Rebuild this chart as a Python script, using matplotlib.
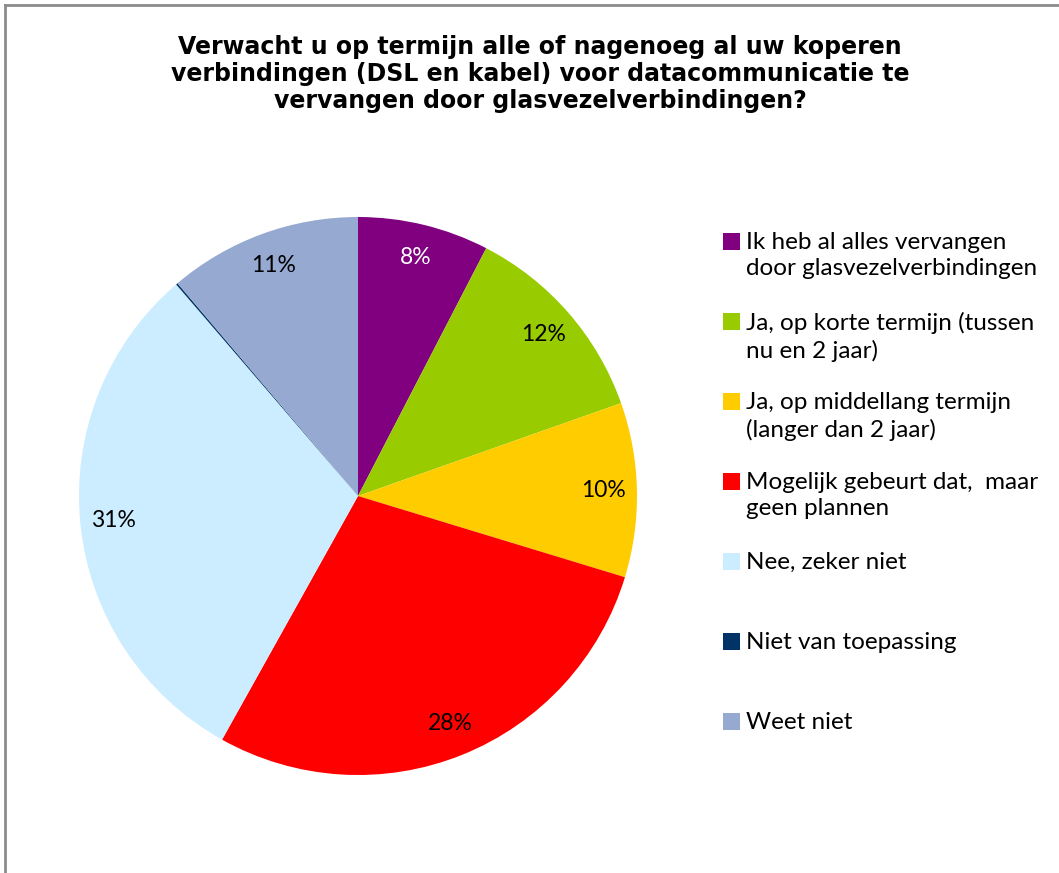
import matplotlib.pyplot as plt
from matplotlib.lines import Line2D

title = ("Verwacht u op termijn alle of nagenoeg al uw koperen\n"
         "verbindingen (DSL en kabel) voor datacommunicatie te\n"
         "vervangen door glasvezelverbindingen?")

labels = [
    "Ik heb al alles vervangen\ndoor glasvezelverbindingen",
    "Ja, op korte termijn (tussen\nnu en 2 jaar)",
    "Ja, op middellang termijn\n(langer dan 2 jaar)",
    "Mogelijk gebeurt dat,  maar\ngeen plannen",
    "Nee, zeker niet",
    "Niet van toepassing",
    "Weet niet",
]
values = [7.6, 12.0, 10.1, 28.4, 30.6, 0.1, 11.2]
colors = ["#800080", "#99CC00", "#FFCC00", "#FF0000", "#CCECFF", "#003366", "#96A9D1"]
label_colors = ["white", "black", "black", "black", "black", "black", "black"]

W, H = 1059, 873
fig = plt.figure(figsize=(W / 100, H / 100), dpi=100)

# grey frame (left and top edges visible in the reference)
fig.add_artist(Line2D([5 / W, 5 / W], [0, 1 - 5 / H], color="#8c8c8c", lw=2,
                      transform=fig.transFigure))
fig.add_artist(Line2D([5 / W, 1], [1 - 5 / H, 1 - 5 / H], color="#8c8c8c", lw=2,
                      transform=fig.transFigure))

fig.text(540 / W, 1 - 74 / H, title, ha="center", va="center", fontsize=17,
         fontweight="bold", family="DejaVu Sans", linespacing=1.15)

cx, cy, r = 358, 496, 279
ax = fig.add_axes([(cx - r) / W, (H - cy - r) / H, 2 * r / W, 2 * r / H])
wedges, texts, autotexts = ax.pie(
    values, colors=colors, startangle=90, counterclock=False, radius=1,
    autopct=lambda p: f"{p:.0f}%" if p >= 1 else "", pctdistance=0.88,
    wedgeprops=dict(linewidth=0),
    textprops=dict(fontsize=16.5, family="Lato"))
for t, c in zip(autotexts, label_colors):
    t.set_color(c)
ax.set_xlim(-1, 1)
ax.set_ylim(-1, 1)
ax.axis("off")

# legend drawn by hand to match the spaced-out Excel layout
for i, (lab, col) in enumerate(zip(labels, colors)):
    y = 242 + i * 80
    fig.patches.append(plt.Rectangle((723 / W, 1 - (y + 8) / H), 17 / W, 17 / H,
                                     facecolor=col, edgecolor="none",
                                     transform=fig.transFigure))
    fig.text(746 / W, 1 - (y - 10) / H, lab, ha="left", va="top", fontsize=17.5,
             family="Lato", linespacing=1.3)

fig.savefig("out.png", dpi=100)
